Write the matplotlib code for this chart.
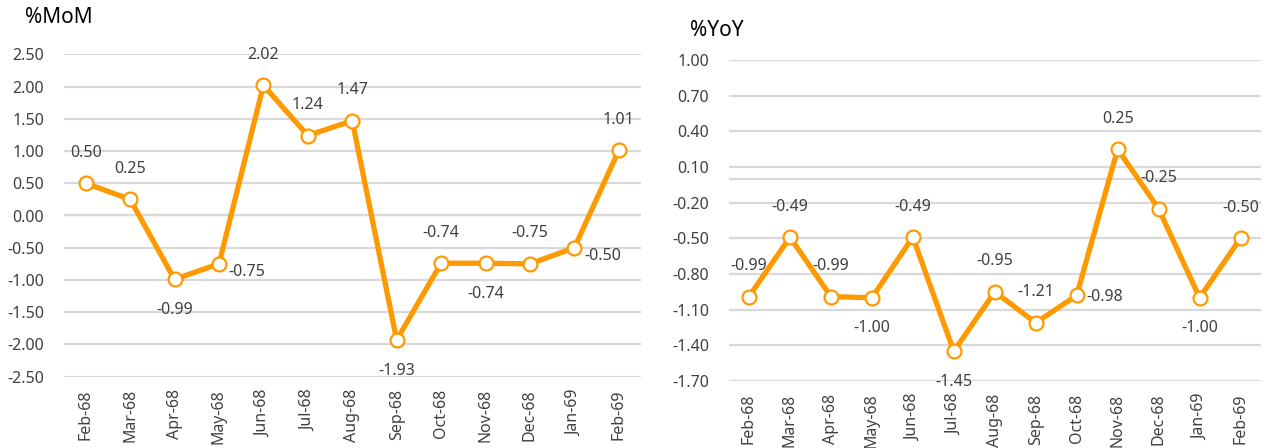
import matplotlib
matplotlib.use("Agg")
import matplotlib.pyplot as plt

months = ["Feb-68", "Mar-68", "Apr-68", "May-68", "Jun-68", "Jul-68", "Aug-68",
          "Sep-68", "Oct-68", "Nov-68", "Dec-68", "Jan-69", "Feb-69"]
mom = [0.50, 0.25, -0.99, -0.75, 2.02, 1.24, 1.47, -1.93, -0.74, -0.74, -0.75, -0.50, 1.01]
yoy = [-0.99, -0.49, -0.99, -1.00, -0.49, -1.45, -0.95, -1.21, -0.98, 0.25, -0.25, -1.00, -0.50]
mom_pos = ["above", "above", "below", "right", "above", "above", "above",
           "below", "above", "below", "above", "right", "above"]
yoy_pos = ["above", "above", "above", "below", "above", "below", "above",
           "above", "right", "above", "above", "below", "above"]
mom_ticks = [2.5, 2.0, 1.5, 1.0, 0.5, 0.0, -0.5, -1.0, -1.5, -2.0, -2.5]
yoy_ticks = [1.0, 0.7, 0.4, 0.1, -0.2, -0.5, -0.8, -1.1, -1.4, -1.7]

ORANGE = "#FF9900"
GRID = "#D9D9D9"
TXT = "#404040"
FONT = "Noto Sans"
FS = 11.5
plt.rcParams["font.family"] = [FONT, "DejaVu Sans"]

fig = plt.figure(figsize=(12.67, 4.48), dpi=100)
ax1 = fig.add_axes([63.5 / 1267, (448 - 376.7) / 448, 577.5 / 1267, 322.4 / 448])
ax2 = fig.add_axes([728.5 / 1267, (448 - 381) / 448, 532.5 / 1267, 321 / 448])


def draw(ax, vals, pos, ticks, fmt, right_dy):
    x = list(range(len(vals)))
    ax.set_xlim(-0.5, len(vals) - 0.5)
    ax.set_ylim(min(ticks), max(ticks))
    for t in ticks:
        ax.axhline(t, color=GRID, lw=1.6, zorder=0)
    ax.axhline(0, color=GRID, lw=1.6, zorder=0)
    ax.plot(x, vals, color=ORANGE, lw=3.8, marker="o", markersize=10,
            markerfacecolor="white", markeredgecolor=ORANGE, markeredgewidth=1.6,
            zorder=3, clip_on=False)
    for xi, v, p in zip(x, vals, pos):
        s = fmt.format(v)
        if p == "above":
            ax.annotate(s, (xi, v), xytext=(0, 22), textcoords="offset points",
                        ha="center", va="center", fontsize=FS, color=TXT)
        elif p == "below":
            ax.annotate(s, (xi, v), xytext=(0, -22), textcoords="offset points",
                        ha="center", va="center", fontsize=FS, color=TXT)
        else:
            ax.annotate(s, (xi, v), xytext=(7, right_dy), textcoords="offset points",
                        ha="left", va="center", fontsize=FS, color=TXT)
    ax.set_yticks(ticks)
    ax.set_yticklabels([fmt.format(t) for t in ticks], fontsize=FS, color=TXT)
    ax.set_xticks(x)
    ax.set_xticklabels(months, rotation=90, fontsize=FS, color=TXT)
    ax.tick_params(axis="both", length=0)
    ax.tick_params(axis="y", pad=14)
    ax.tick_params(axis="x", pad=9)
    for s in ax.spines.values():
        s.set_visible(False)


draw(ax1, mom, mom_pos, mom_ticks, "{:.2f}", -6)
draw(ax2, yoy, yoy_pos, yoy_ticks, "{:.2f}", -1)

fig.text(25 / 1267, 1 - 17.5 / 448, "%MoM", fontsize=15, color="#000000",
         ha="left", va="center")
fig.text(690 / 1267, 1 - 31 / 448, "%YoY", fontsize=15, color="#000000",
         ha="left", va="center")

fig.savefig("out.png", dpi=100, facecolor="white")
